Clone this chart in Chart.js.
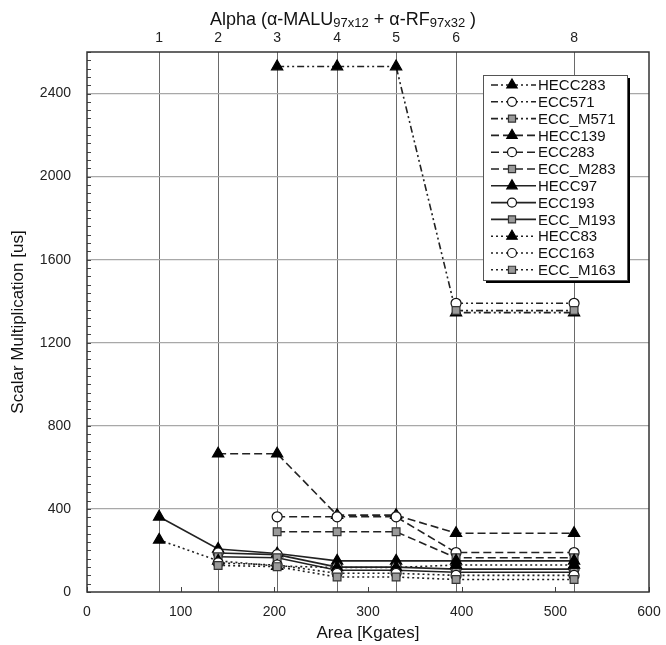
<!DOCTYPE html>
<html>
<head>
<meta charset="utf-8">
<script src="https://cdn.jsdelivr.net/npm/chart.js@4.4.1/dist/chart.umd.min.js"></script>
<style>
  html, body { margin: 0; padding: 0; background: #fff; }
  #wrap { position: relative; width: 666px; height: 645px; }
  #topTitle {
    position: absolute; left: 0; top: 9px; width: 686px; text-align: center;
    font-family: "Liberation Sans", Arial, sans-serif; font-size: 18px; color: #111;
    white-space: nowrap; line-height: 20px;
  }
  #topTitle .sub { font-size: 13px; position: relative; top: 2px; }
</style>
</head>
<body>
<div id="wrap">
  <canvas id="chart" width="666" height="645"></canvas>
  <div id="topTitle">Alpha (α-MALU<span class="sub">97x12</span> + α-RF<span class="sub">97x32</span> )</div>
</div>
<script>
// 資料：Alpha 處理器數量對應的面積 (Kgates)
const alphaLabels = ['1', '2', '3', '4', '5', '6', '8'];
const areaKgates = [77, 140, 203, 267, 330, 394, 520];

// 各曲線的純量乘法時間 [us]
const hecc283 = [null, null, 2530, 2530, 2530, 1345, 1345];
const ecc571 = [null, null, null, null, null, 1390, 1390];
const eccM571 = [null, null, null, null, null, 1355, 1355];
const hecc139 = [null, 666, 666, 370, 370, 283, 283];
const ecc283 = [null, null, 362, 362, 362, 190, 190];
const eccM283 = [null, null, 290, 290, 290, 165, 165];
const hecc97 = [362, 207, 185, 150, 150, 150, 150];
const ecc193 = [null, 188, 180, 120, 120, 110, 110];
const eccM193 = [null, 170, 165, 105, 105, 95, 95];
const hecc83 = [251, 150, 125, 118, 118, 130, 130];
const ecc163 = [null, 140, 130, 90, 90, 80, 80];
const eccM163 = [null, 128, 122, 72, 72, 60, 60];

const yTickValues = [0, 400, 800, 1200, 1600, 2000, 2400];
const xTickValues = [0, 100, 200, 300, 400, 500, 600];

const FONT = '"Liberation Sans", Arial, sans-serif';

// 線型：283/571 點劃線、139/283 虛線、97/193 實線、83/163 點線
const DASH_DOT = [7, 3, 2, 3, 2, 3];
const DASHED = [8, 4];
const SOLID = [];
const DOTTED = [2, 3];

// 標記樣式
const TRI = { pointStyle: 'triangle', radius: 6.5, fill: '#000', stroke: '#000' };
const CIR = { pointStyle: 'circle', radius: 5, fill: '#fff', stroke: '#111' };
const SQR = { pointStyle: 'rect', radius: 5.5, fill: '#9a9a9a', stroke: '#333' };

function makeSet(label, values, dash, marker) {
    return {
        label: label,
        data: values.map((v, i) => ({ x: areaKgates[i], y: v })),
        borderColor: '#222',
        borderWidth: 1.6,
        borderDash: dash,
        pointStyle: marker.pointStyle,
        pointRadius: marker.radius,
        pointHoverRadius: marker.radius,
        pointBackgroundColor: marker.fill,
        pointBorderColor: marker.stroke,
        pointBorderWidth: 1.2,
        fill: false,
        tension: 0,
        spanGaps: false
    };
}

const datasets = [
    makeSet('HECC283', hecc283, DASH_DOT, TRI),
    makeSet('ECC571', ecc571, DASH_DOT, CIR),
    makeSet('ECC_M571', eccM571, DASH_DOT, SQR),
    makeSet('HECC139', hecc139, DASHED, TRI),
    makeSet('ECC283', ecc283, DASHED, CIR),
    makeSet('ECC_M283', eccM283, DASHED, SQR),
    makeSet('HECC97', hecc97, SOLID, TRI),
    makeSet('ECC193', ecc193, SOLID, CIR),
    makeSet('ECC_M193', eccM193, SOLID, SQR),
    makeSet('HECC83', hecc83, DOTTED, TRI),
    makeSet('ECC163', ecc163, DOTTED, CIR),
    makeSet('ECC_M163', eccM163, DOTTED, SQR)
];
// 後面的曲線畫在上層
datasets.forEach((d, i) => { d.order = datasets.length - i; });

// 外框與向內的小刻度
const framePlugin = {
    id: 'frame',
    afterDatasetsDraw(chart) {
        const { ctx, chartArea: a, scales } = chart;
        ctx.save();
        ctx.strokeStyle = '#444';
        ctx.lineWidth = 1;
        ctx.beginPath();
        for (let v = 0; v <= 2600; v += 40) {
            const y = Math.round(scales.y.getPixelForValue(v)) + 0.5;
            ctx.moveTo(a.left, y);
            ctx.lineTo(a.left + 4, y);
        }
        xTickValues.forEach(v => {
            const x = Math.round(scales.x.getPixelForValue(v)) + 0.5;
            ctx.moveTo(x, a.bottom);
            ctx.lineTo(x, a.bottom - 5);
        });
        ctx.stroke();
        ctx.lineWidth = 1.5;
        ctx.strokeStyle = '#333';
        ctx.strokeRect(a.left, a.top, a.right - a.left, a.bottom - a.top);
        ctx.restore();
    }
};

// 圖內圖例 (帶陰影方框)
const legendPlugin = {
    id: 'boxLegend',
    afterDraw(chart) {
        const ctx = chart.ctx;
        const bx = 483, by = 75, bw = 144, bh = 205;
        ctx.save();
        ctx.fillStyle = '#000';
        ctx.fillRect(bx + 3, by + 3, bw, bh);
        ctx.fillStyle = '#fff';
        ctx.fillRect(bx, by, bw, bh);
        ctx.strokeStyle = '#555';
        ctx.lineWidth = 1;
        ctx.strokeRect(bx + 0.5, by + 0.5, bw, bh);
        ctx.font = '15px ' + FONT;
        ctx.textBaseline = 'middle';
        chart.data.datasets.forEach((d, i) => {
            const y = by + 10 + i * 16.8;
            ctx.strokeStyle = d.borderColor;
            ctx.lineWidth = d.borderWidth;
            ctx.setLineDash(d.borderDash);
            ctx.beginPath();
            ctx.moveTo(491, y);
            ctx.lineTo(536, y);
            ctx.stroke();
            ctx.setLineDash([]);
            ctx.fillStyle = d.pointBackgroundColor;
            ctx.strokeStyle = d.pointBorderColor;
            ctx.lineWidth = d.pointBorderWidth;
            Chart.helpers.drawPoint(ctx, {
                pointStyle: d.pointStyle, radius: d.pointRadius - 0.5,
                rotation: 0, borderWidth: d.pointBorderWidth
            }, 512, y);
            ctx.fillStyle = '#111';
            ctx.fillText(d.label, 538, y + 1);
        });
        ctx.restore();
    }
};

new Chart(document.getElementById('chart'), {
    type: 'line',
    data: { datasets: datasets },
    options: {
        responsive: false,
        animation: false,
        events: [],
        layout: { padding: { right: 17 } },
        plugins: {
            legend: { display: false },
            tooltip: { enabled: false }
        },
        scales: {
            x: {
                type: 'linear',
                position: 'bottom',
                min: 0, max: 600,
                afterBuildTicks: s => { s.ticks = xTickValues.map(v => ({ value: v })); },
                afterFit: s => { s.height = 53; s.paddingLeft = 0; s.paddingRight = 0; },
                grid: { display: false, drawTicks: false },
                border: { display: false },
                ticks: {
                    padding: 12, color: '#222', font: { family: FONT, size: 14 },
                    callback: v => String(v)
                },
                title: {
                    display: true, text: 'Area [Kgates]', color: '#111',
                    font: { family: FONT, size: 17 }, padding: { top: 0, bottom: 1 }
                }
            },
            xTop: {
                type: 'linear',
                position: 'top',
                min: 0, max: 600,
                afterBuildTicks: s => { s.ticks = areaKgates.map(v => ({ value: v })); },
                afterFit: s => { s.height = 52; s.paddingLeft = 0; s.paddingRight = 0; },
                grid: { color: '#6a6a6a', lineWidth: 1, drawTicks: false },
                border: { display: false },
                ticks: {
                    padding: 5, color: '#222', font: { family: FONT, size: 14 },
                    callback: v => alphaLabels[areaKgates.indexOf(v)]
                }
            },
            y: {
                type: 'linear',
                min: 0, max: 2600,
                afterBuildTicks: s => { s.ticks = yTickValues.map(v => ({ value: v })); },
                afterFit: s => { s.width = 87; },
                grid: {
                    drawTicks: false,
                    lineWidth: 1.2,
                    color: c => (c.tick && c.tick.value === 0) ? 'rgba(0,0,0,0)' : '#a8a8a8'
                },
                border: { display: false },
                ticks: {
                    padding: 16, color: '#222', font: { family: FONT, size: 14 },
                    callback: v => String(v)
                },
                title: {
                    display: true, text: 'Scalar Multiplication [us]', color: '#111',
                    font: { family: FONT, size: 17 }, padding: { top: 8, bottom: 0 }
                }
            }
        }
    },
    plugins: [framePlugin, legendPlugin]
});
</script>
</body>
</html>
